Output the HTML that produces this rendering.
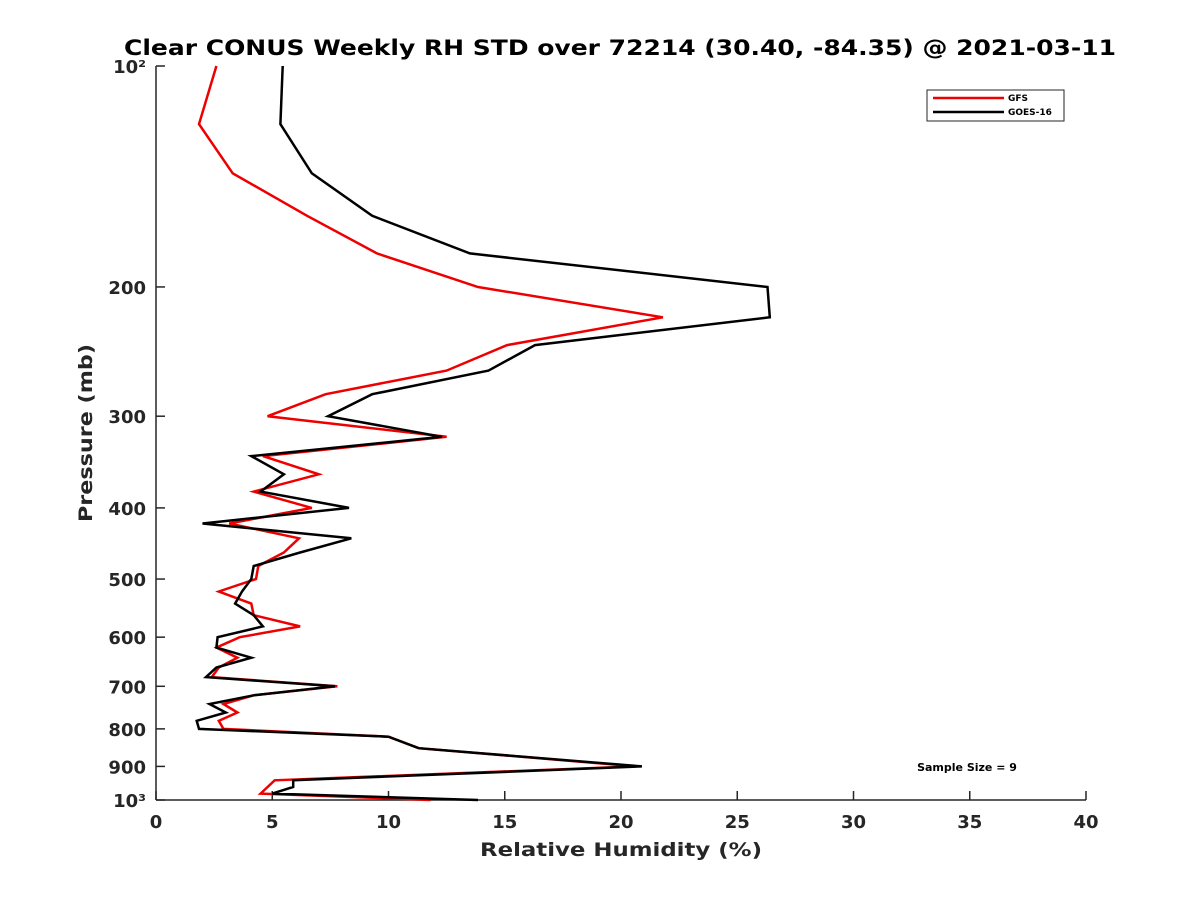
<!DOCTYPE html>
<html><head><meta charset="utf-8"><style>body{margin:0;background:#fff}svg{display:block;font-family:"DejaVu Sans","Liberation Sans",sans-serif}</style></head>
<body>
<svg id="chart" width="1200" height="900" xmlns="http://www.w3.org/2000/svg">
<rect width="1200" height="900" fill="#fff"/>
<text x="620" y="55" font-size="21" font-weight="bold" text-anchor="middle" fill="#000" textLength="992" lengthAdjust="spacingAndGlyphs">Clear CONUS Weekly RH STD over 72214 (30.40, -84.35) @ 2021-03-11</text>
<g id="axes"></g>
<g id="series"></g>
<text x="621" y="856" font-size="19" font-weight="bold" text-anchor="middle" fill="#262626" textLength="282" lengthAdjust="spacingAndGlyphs">Relative Humidity (%)</text>
<text transform="translate(92,433) rotate(-90)" font-size="19" font-weight="bold" text-anchor="middle" fill="#262626" textLength="178" lengthAdjust="spacingAndGlyphs">Pressure (mb)</text>
<g>
<rect x="927" y="90" width="137" height="31" fill="#fff" stroke="#262626" stroke-width="1"/>
<line x1="933" y1="98" x2="1004" y2="98" stroke="#e00" stroke-width="2.5"/>
<text x="1008" y="101" font-size="9" font-weight="bold">GFS</text>
<line x1="933" y1="112" x2="1004" y2="112" stroke="#000" stroke-width="2.5"/>
<text x="1008" y="115" font-size="9" font-weight="bold">GOES-16</text>
</g>
<text x="967" y="771" font-size="11" font-weight="bold" text-anchor="middle">Sample Size = 9</text>
</svg>
<script>
const pressures=[100,120,140,160,180,200,220,240,260,280,300,320,340,360,380,400,420,440,460,480,500,520,540,560,580,600,620,640,660,680,700,720,740,760,780,800,820,850,900,940,960,980,1000];
const gfsValues=[2.6,1.85,3.3,6.5,9.5,13.85,21.8,15.1,12.5,7.3,4.8,12.5,4.6,7.0,4.2,6.7,3.15,6.15,5.5,4.4,4.3,2.7,4.1,4.2,6.2,3.6,2.6,3.5,2.7,2.4,7.8,4.2,2.9,3.5,2.7,2.9,10.0,11.3,20.65,5.1,4.8,4.5,11.8];
const goesValues=[5.45,5.35,6.7,9.3,13.5,26.3,26.4,16.3,14.3,9.3,7.4,12.3,4.1,5.5,4.5,8.3,2.0,8.4,6.2,4.2,4.1,3.7,3.4,4.2,4.6,2.65,2.6,4.1,2.6,2.15,7.7,4.2,2.3,3.0,1.75,1.85,10.0,11.3,20.9,5.9,5.9,5.0,13.85];
const xTicks=[0,5,10,15,20,25,30,35,40];
const yTicks=[100,200,300,400,500,600,700,800,900,1000];
const yTickLabels=["10²","200","300","400","500","600","700","800","900","10³"];
const NS="http://www.w3.org/2000/svg";
const X0=156,X1=1086,Y0=66,Y1=800;
function xs(v){return X0+(v-0)/(40-0)*(X1-X0);}
function ys(p){return Y0+Math.log10(p/100)*(Y1-Y0);}
function mk(t,a,parent){const e=document.createElementNS(NS,t);for(const k in a)e.setAttribute(k,a[k]);parent.appendChild(e);return e;}
const ax=document.getElementById('axes');
const xl=mk('line',{x1:X0,y1:Y1,x2:X1,y2:Y1,stroke:'#262626','stroke-width':1.5},ax);


const yl=mk('line',{x1:X0,y1:Y0,x2:X0,y2:Y1,stroke:'#262626','stroke-width':1.5},ax);


xTicks.forEach(v=>{const x=xs(v);
 mk('line',{x1:x,y1:Y1,x2:x,y2:Y1-9,stroke:'#262626','stroke-width':1.5},ax);
 const t=mk('text',{x:x,y:Y1+28,'font-size':18,'font-weight':'bold','text-anchor':'middle',fill:'#262626'},ax);
 t.textContent=v;
 
 
});
yTicks.forEach((p,i)=>{const y=ys(p);
 mk('line',{x1:X0,y1:y,x2:X0+9,y2:y,stroke:'#262626','stroke-width':1.5},ax);
 const t=mk('text',{x:X0-10,y:y+7,'font-size':18,'font-weight':'bold','text-anchor':'end',fill:'#262626'},ax);
 t.textContent=yTickLabels[i];
 
 
});
const sg=document.getElementById('series');
function line(vals,color,name){
 const d=vals.map((v,i)=>(i?'L':'M')+xs(v).toFixed(1)+','+ys(pressures[i]).toFixed(1)).join('');
 const e=mk('path',{d:d,fill:'none',stroke:color,'stroke-width':2.5,'stroke-linejoin':'miter'},sg);
 
 
}
line(gfsValues,'#e00','gfs-line');
line(goesValues,'#000','goes16-line');
</script>
</body></html>
